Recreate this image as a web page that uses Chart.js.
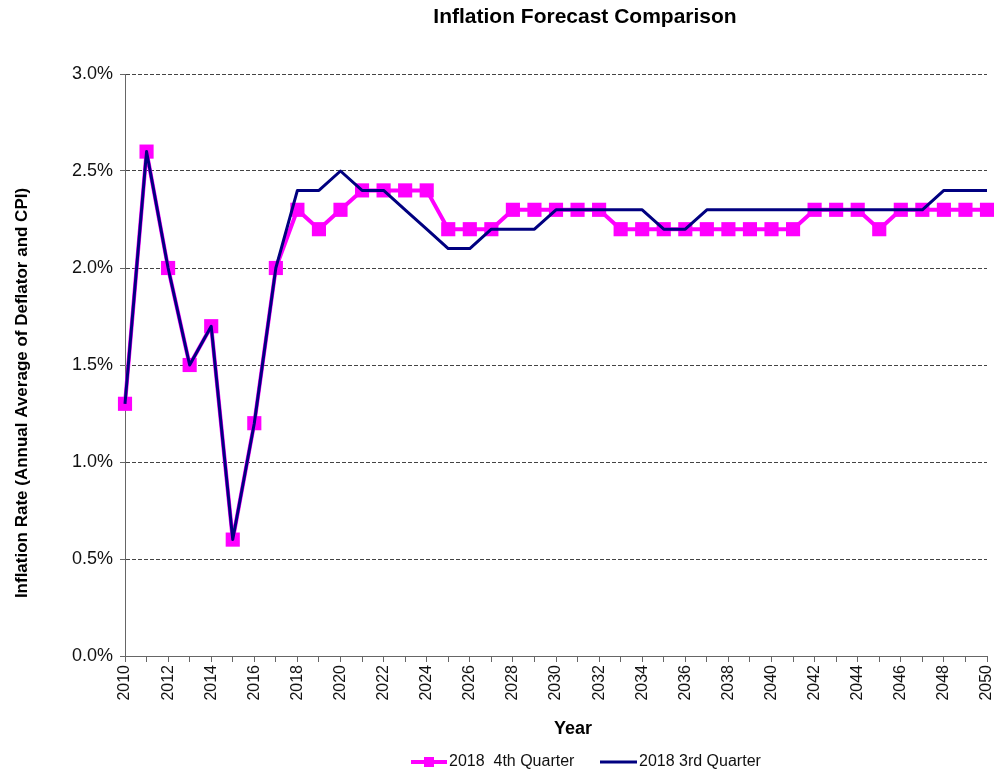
<!DOCTYPE html>
<html>
<head>
<meta charset="utf-8">
<title>Inflation Forecast Comparison</title>
<script src="https://cdn.jsdelivr.net/npm/chart.js@4"></script>
<style>
html,body{margin:0;padding:0;background:#fff;}
#wrap{width:994px;height:771px;position:relative;}
</style>
</head>
<body>
<div id="wrap"><canvas id="chart" width="994" height="771"></canvas></div>
<script>
const years=[];
for(let y=2010;y<=2050;y++)years.push(String(y));

const q4Values=[1.3,2.6,2.0,1.5,1.7,0.6,1.2,2.0,2.3,2.2,
2.3,2.4,2.4,2.4,2.4,2.2,2.2,2.2,2.3,2.3,
2.3,2.3,2.3,2.2,2.2,2.2,2.2,2.2,2.2,2.2,
2.2,2.2,2.3,2.3,2.3,2.2,2.3,2.3,2.3,2.3,2.3];

const q3Values=[1.3,2.6,2.0,1.5,1.7,0.6,1.2,2.0,2.4,2.4,
2.5,2.4,2.4,2.3,2.2,2.1,2.1,2.2,2.2,2.2,
2.3,2.3,2.3,2.3,2.3,2.2,2.2,2.3,2.3,2.3,
2.3,2.3,2.3,2.3,2.3,2.3,2.3,2.3,2.4,2.4,2.4];

const yTicks=[0,0.5,1.0,1.5,2.0,2.5,3.0];

const seriesNames=["2018  4th Quarter","2018 3rd Quarter"];
const titleText="Inflation Forecast Comparison";
const xTitle="Year";
const yTitle="Inflation Rate (Annual Average of Deflator and CPI)";

const FONT="'Liberation Sans', Arial, sans-serif";
const MAGENTA="#ff00ff";
const NAVY="#000080";

// titles and legend are drawn by hand so they sit where the original has them
const textPlugin={
id:"textPlugin",
afterDraw(chart){
const ctx=chart.ctx;
ctx.save();
ctx.fillStyle="#000";
ctx.textAlign="center";
ctx.textBaseline="middle";

ctx.font="bold 21px "+FONT;
ctx.fillText(titleText,585,17);

ctx.font="bold 18px "+FONT;
ctx.fillText(xTitle,573,729);

ctx.save();
ctx.translate(22,393);
ctx.rotate(-Math.PI/2);
ctx.font="bold 17px "+FONT;
ctx.fillText(yTitle,0,0);
ctx.restore();

// legend
const ly=762;
ctx.lineWidth=4;
ctx.strokeStyle=MAGENTA;
ctx.beginPath();ctx.moveTo(411,ly);ctx.lineTo(447,ly);ctx.stroke();
ctx.fillStyle=MAGENTA;
ctx.fillRect(424,ly-5,10,10);

ctx.lineWidth=3;
ctx.strokeStyle=NAVY;
ctx.beginPath();ctx.moveTo(600,ly);ctx.lineTo(637,ly);ctx.stroke();

ctx.fillStyle="#111";
ctx.textAlign="left";
ctx.font="16px "+FONT;
ctx.fillText(seriesNames[0],449,ly);
ctx.fillText(seriesNames[1],639,ly);
ctx.restore();
}
};

const chart=new Chart(document.getElementById("chart"),{
type:"line",
data:{
labels:years,
datasets:[{
label:seriesNames[0],
data:q4Values,
borderColor:MAGENTA,
backgroundColor:MAGENTA,
borderWidth:4,
borderJoinStyle:"round",
pointStyle:"rect",
pointRadius:10,
pointHoverRadius:10,
pointBorderWidth:0,
tension:0,
clip:false,
order:1
},{
label:seriesNames[1],
data:q3Values,
borderColor:NAVY,
backgroundColor:NAVY,
borderWidth:3,
borderJoinStyle:"round",
pointRadius:0,
tension:0,
clip:false,
order:0
}]
},
options:{
responsive:false,
animation:false,
layout:{autoPadding:false,padding:{left:0,right:7,top:74,bottom:0}},
plugins:{
legend:{display:false},
title:{display:false},
tooltip:{enabled:false}
},
scales:{
x:{
type:"category",
offset:false,
grid:{display:true,drawOnChartArea:false,tickLength:6,tickColor:"#666",tickWidth:1},
border:{display:true,color:"#666",width:1},
ticks:{
autoSkip:false,
minRotation:90,
maxRotation:90,
padding:3,
color:"#111",
font:{family:FONT,size:16},
callback:(v,i)=>i%2===0?years[i]:""
},
afterFit(scale){
scale.height=115;
scale.paddingLeft=0;
scale.paddingRight=0;
}
},
y:{
min:0,
max:3,
afterBuildTicks(scale){scale.ticks=yTicks.map(v=>({value:v}));},
grid:{color:"#444",lineWidth:1,tickLength:5,tickColor:"#666",tickBorderDash:[]},
border:{display:true,color:"#666",width:1,dash:[4,2]},
ticks:{
padding:7,
color:"#111",
font:{family:FONT,size:18},
callback:v=>v.toFixed(1)+"%"
},
afterFit(scale){
scale.width=125;
scale.paddingTop=0;
scale.paddingBottom=0;
}
}
}
},
plugins:[textPlugin]
});
</script>
</body>
</html>
